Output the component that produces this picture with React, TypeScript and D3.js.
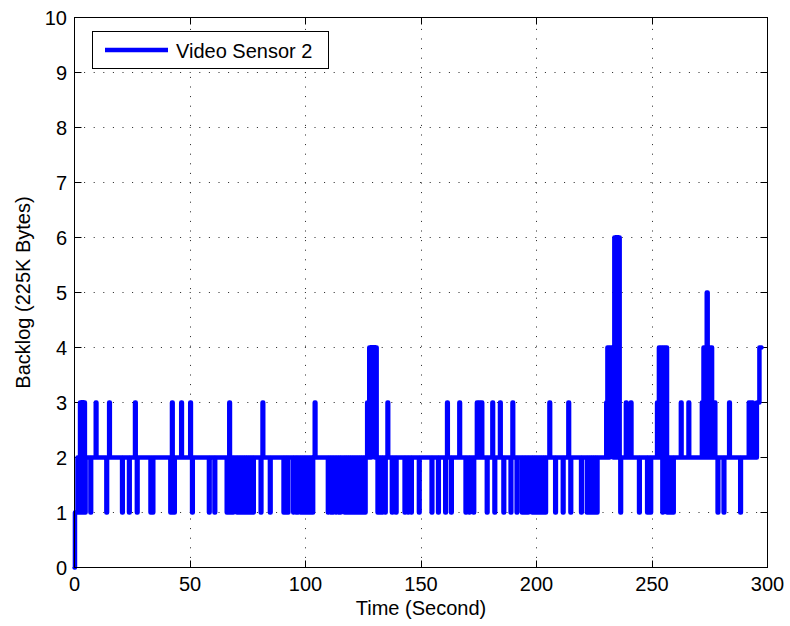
import React from 'react';
import * as d3 from 'd3';

const xTicks = [0, 50, 100, 150, 200, 250, 300];
const yTicks = [0, 1, 2, 3, 4, 5, 6, 7, 8, 9, 10];
const seriesName = 'Video Sensor 2';
const xLabel = 'Time (Second)';
const yLabel = 'Backlog (225K Bytes)';

// [time (s), backlog] breakpoints of the step signal
const backlogSteps: [number, number][] = [
  [0, 0], [0.2, 1], [1.3, 2], [1.7, 1], [2.0, 2], [2.4, 3], [2.9, 1], [3.2, 3], [3.7, 2], [4.0, 3], [4.5, 1], [4.8, 2],
  [6.9, 1], [7.2, 2], [9.2, 3], [9.5, 2], [13.8, 1], [14.1, 2], [15.0, 3], [15.3, 2],
  [20.6, 1], [20.9, 2], [23.6, 1], [23.9, 2], [26.2, 3], [26.5, 2], [27.0, 1], [27.3, 2],
  [32.9, 1], [33.3, 2], [33.7, 1], [34.1, 2],
  [41.5, 1], [41.9, 2], [42.2, 3], [42.5, 2], [43.0, 1], [43.4, 2],
  [46.2, 3], [46.5, 2], [50.1, 3], [50.4, 2], [50.9, 1], [51.2, 2],
  [58.2, 1], [58.5, 2], [60.6, 1], [60.9, 2],
  [65.9, 1], [66.3, 2], [67.0, 3], [67.3, 2], [67.6, 1], [68.0, 2], [68.5, 1], [68.8, 2],
  [70.3, 1], [70.6, 2], [71.1, 1], [71.4, 2], [71.9, 1], [72.2, 2], [72.7, 1], [73.0, 2],
  [73.5, 1], [73.8, 2], [74.3, 1], [74.6, 2], [75.1, 1], [75.4, 2], [75.9, 1], [76.2, 2],
  [76.7, 1], [77.0, 2], [77.3, 1], [77.6, 2],
  [80.6, 1], [80.9, 2], [81.4, 3], [81.7, 2], [84.6, 1], [84.9, 2],
  [90.5, 1], [90.8, 2], [91.5, 1], [91.8, 2], [92.3, 1], [92.6, 2],
  [94.7, 1], [95.0, 2], [95.8, 1], [96.1, 2], [96.6, 1], [96.9, 2],
  [97.8, 1], [98.1, 2], [98.7, 1], [99.0, 2], [99.6, 1], [99.9, 2], [100.5, 1], [100.8, 2],
  [101.4, 1], [101.7, 2], [102.3, 1], [102.6, 2], [103.0, 1], [103.3, 2],
  [104.0, 3], [104.3, 2],
  [109.7, 1], [110.0, 2], [110.8, 1], [111.1, 2], [111.8, 1], [112.1, 2],
  [113.1, 1], [113.4, 2], [114.2, 1], [114.5, 2], [115.0, 1], [115.3, 2],
  [116.9, 1], [117.2, 2], [117.7, 1], [118.0, 2], [118.5, 1], [118.8, 2], [119.3, 1], [119.6, 2],
  [120.1, 1], [120.4, 2], [120.9, 1], [121.2, 2], [121.7, 1], [122.0, 2], [122.5, 1], [122.8, 2],
  [123.3, 1], [123.6, 2], [124.1, 1], [124.4, 2], [124.9, 1], [125.2, 2], [125.7, 1], [126.0, 2],
  [126.7, 3], [127.3, 2], [127.6, 4], [128.2, 2], [128.5, 4], [129.1, 3], [129.4, 4], [130.0, 2], [130.3, 4], [130.8, 2],
  [131.2, 1], [131.5, 2], [132.2, 1], [132.5, 2], [133.2, 1], [133.5, 2], [134.4, 1], [134.7, 2],
  [135.5, 3], [135.8, 2], [137.4, 1], [137.7, 2], [139.1, 1], [139.4, 2],
  [142.9, 1], [143.2, 2], [144.3, 1], [144.6, 2], [145.7, 1], [146.0, 2],
  [149.1, 1], [149.4, 2], [154.6, 1], [154.9, 2], [157.4, 1], [157.7, 2],
  [160.5, 1], [160.8, 2], [161.3, 3], [161.6, 2], [163.0, 1], [163.3, 2],
  [166.6, 3], [166.9, 2], [169.3, 1], [169.6, 2], [170.8, 1], [171.1, 2],
  [172.7, 1], [173.0, 2],
  [174.2, 3], [174.8, 2], [175.1, 3], [175.7, 2], [176.0, 3], [176.5, 2],
  [178.5, 1], [178.8, 2],
  [180.9, 3], [181.2, 2], [181.8, 1], [182.1, 2], [184.2, 3], [184.5, 2],
  [185.7, 1], [186.0, 2], [188.8, 1], [189.1, 2], [189.6, 3], [189.9, 2],
  [191.4, 1], [191.7, 2],
  [193.7, 1], [194.0, 2], [194.9, 1], [195.2, 2], [196.2, 1], [196.5, 2],
  [198.1, 1], [198.4, 2], [198.9, 1], [199.2, 2], [199.7, 1], [200.0, 2], [200.5, 1], [200.8, 2],
  [201.3, 1], [201.6, 2], [202.1, 1], [202.4, 2], [202.9, 1], [203.2, 2], [203.8, 1], [204.1, 2],
  [205.6, 3], [205.9, 2], [208.1, 1], [208.4, 2], [211.4, 1], [211.7, 2],
  [213.8, 3], [214.1, 2], [214.7, 1], [215.0, 2], [219.3, 1], [219.6, 2],
  [221.8, 1], [222.1, 2], [222.7, 1], [223.0, 2], [223.6, 1], [223.9, 2],
  [224.5, 1], [224.8, 2], [225.4, 1], [225.7, 2], [226.1, 1], [226.4, 2],
  [230.2, 3], [230.7, 4], [231.3, 2], [231.6, 4], [232.2, 3], [232.5, 4], [232.9, 3], [233.2, 2], [233.4, 3],
  [233.7, 6], [234.3, 2], [234.6, 6], [235.2, 2], [235.5, 6], [236.0, 2], [236.3, 1], [236.6, 2],
  [238.7, 3], [239.0, 2], [240.8, 3], [241.1, 2], [244.4, 1], [244.7, 2],
  [247.9, 1], [248.2, 2], [249.3, 1], [249.6, 2],
  [252.2, 3], [252.6, 2], [253.0, 4], [253.6, 2], [253.9, 4], [254.5, 1], [254.8, 4], [255.4, 2],
  [255.7, 4], [256.5, 1], [256.8, 2], [257.5, 1], [257.8, 2], [259.1, 1], [259.4, 2],
  [262.5, 3], [262.8, 2], [265.8, 3], [266.1, 2],
  [271.6, 3], [272.0, 2], [272.3, 4], [272.9, 2], [273.2, 4], [273.7, 5], [274.1, 2], [274.4, 4],
  [275.0, 2], [275.3, 4], [276.0, 3], [276.4, 2], [276.7, 3], [277.4, 2],
  [278.4, 1], [278.7, 2], [281.0, 1], [281.3, 2], [283.4, 3], [283.7, 2],
  [288.2, 1], [288.5, 2], [291.9, 3], [292.2, 2], [292.6, 3], [293.0, 2], [293.4, 3], [293.7, 2],
  [295.4, 3], [296.5, 4], [297.4, 4],
];

const FONT = '"Liberation Sans", Arial, Helvetica, sans-serif';

export default function App() {
  const W = 790;
  const H = 626;
  const left = 74.5, right = 767.5, top = 17.5, bottom = 567.5;
  const x = d3.scaleLinear().domain([0, 300]).range([left, right]);
  const y = d3.scaleLinear().domain([0, 10]).range([bottom, top]);
  const crisp = (v: number) => Math.round(v - 0.5) + 0.5;
  const line = d3
    .line<[number, number]>()
    .x((d) => x(d[0]))
    .y((d) => y(d[1]))
    .curve(d3.curveStepAfter);
  const tickLen = 7;

  return (
    <svg
      width={W}
      height={H}
      style={{ position: 'absolute', left: 0, top: 0, background: '#fff' }}
      fontFamily={FONT}
    >
      <rect x={0} y={0} width={W} height={H} fill="#fff" />
      <rect x={left} y={top} width={right - left} height={bottom - top} fill="#fff" />
      {/* grid */}
      <g stroke="#222" strokeWidth={1} strokeDasharray="1 8.6" fill="none">
        {xTicks.slice(1, -1).map((t) => (
          <line key={'gx' + t} x1={crisp(x(t))} x2={crisp(x(t))} y1={bottom} y2={top} />
        ))}
        {yTicks.slice(1, -1).map((t) => (
          <line key={'gy' + t} x1={left} x2={right} y1={crisp(y(t))} y2={crisp(y(t))} />
        ))}
      </g>
      {/* ticks */}
      <g stroke="#000" strokeWidth={1}>
        {xTicks.map((t) => (
          <g key={'tx' + t}>
            <line x1={crisp(x(t))} x2={crisp(x(t))} y1={bottom} y2={bottom - tickLen} />
            <line x1={crisp(x(t))} x2={crisp(x(t))} y1={top} y2={top + tickLen} />
          </g>
        ))}
        {yTicks.map((t) => (
          <g key={'ty' + t}>
            <line x1={left} x2={left + tickLen} y1={crisp(y(t))} y2={crisp(y(t))} />
            <line x1={right} x2={right - tickLen} y1={crisp(y(t))} y2={crisp(y(t))} />
          </g>
        ))}
      </g>
      {/* series */}
      <path
        d={line(backlogSteps) || ''}
        fill="none"
        stroke="#0000ff"
        strokeWidth={4.5}
        strokeLinejoin="round"
        strokeLinecap="round"
      />
      {/* box */}
      <rect x={left} y={top} width={right - left} height={bottom - top} fill="none" stroke="#000" strokeWidth={1} />
      {/* tick labels */}
      <g fontSize={20} fill="#000">
        {xTicks.map((t) => (
          <text key={'lx' + t} x={x(t)} y={591} textAnchor="middle">
            {t}
          </text>
        ))}
        {yTicks.map((t) => (
          <text key={'ly' + t} x={67} y={y(t) + 7.5} textAnchor="end">
            {t}
          </text>
        ))}
      </g>
      <text x={(left + right) / 2} y={615} textAnchor="middle" fontSize={20} fill="#000">
        {xLabel}
      </text>
      <text
        transform={`translate(30, ${(top + bottom) / 2}) rotate(-90)`}
        textAnchor="middle"
        fontSize={20}
        fill="#000"
      >
        {yLabel}
      </text>
      {/* legend */}
      <rect x={92.5} y={31.5} width={236} height={37} fill="#fff" stroke="#000" strokeWidth={1} />
      <line x1={105} x2={168} y1={50} y2={50} stroke="#0000ff" strokeWidth={4.5} />
      <text x={176} y={57.5} fontSize={20} fill="#000">
        {seriesName}
      </text>
    </svg>
  );
}
